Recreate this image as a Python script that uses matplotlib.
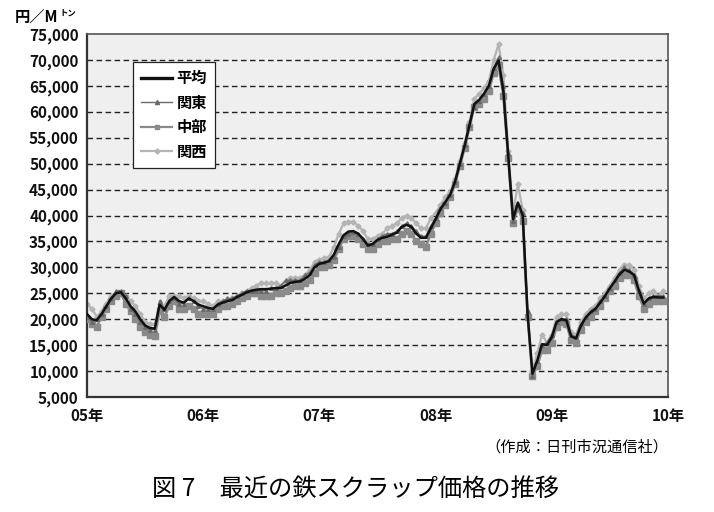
import matplotlib
matplotlib.use("Agg")
import matplotlib.pyplot as plt
from matplotlib.lines import Line2D

plt.rcParams["font.family"] = ["Noto Sans CJK JP", "DejaVu Sans"]

# semi-monthly readings, Jan 2005 .. Dec 2009 (yen per metric ton)
start_year = 2005
steps_per_year = 24

avg = [21000, 20000, 19800, 21000, 22500, 24000, 25000, 25200, 24000, 22500,
       21500, 20000, 18800, 18300, 18200, 22800, 21800, 23500, 24300, 23500,
       23200, 24000, 23500, 22800, 22500, 22200, 22000, 22800, 23200, 23500,
       23700, 24300, 24700, 25200, 25500, 25700, 25800, 25800, 25900, 26000,
       26000, 26500, 27000, 27200, 27300, 27800, 28500, 30000, 30700, 30900,
       31200, 32500, 34500, 36200, 36900, 37000, 36500, 35500, 34200, 34500,
       35300, 35700, 35900, 36300, 36700, 37800, 38200, 37800, 36500, 35700,
       35700, 37500, 39300, 41200, 42600, 44000, 46500, 50000, 53500, 57500,
       61500, 62300, 63500, 65000, 68300, 69900, 64000, 51500, 39300, 42500,
       40000, 21000, 9500, 12000, 15200, 15000, 16500, 19500, 20000, 19800,
       16700, 16300, 18700, 20300, 21300, 22000, 23200, 24500, 26000, 27300,
       28700, 29500, 29200, 28500, 25500, 23000, 24000, 24300, 24200, 24200]

kanto = [20500, 19500, 20000, 21000, 22500, 24000, 25500, 25500, 24500, 22000,
         21000, 19500, 18500, 18000, 18000, 23500, 22000, 23500, 24000, 23000,
         23000, 24000, 23500, 22500, 22000, 22000, 22000, 23000, 23500, 24000,
         24000, 24500, 25000, 25500, 25500, 25500, 25500, 25500, 26000, 26000,
         26500, 27500, 27500, 27500, 27500, 28500, 29000, 30500, 31000, 31000,
         31500, 32000, 34000, 36000, 36500, 36800, 36500, 35500, 34500, 34500,
         35500, 36000, 36500, 36500, 37000, 38000, 38500, 38000, 37000, 36000,
         36000, 38000, 39500, 41500, 42500, 44000, 46500, 50000, 53500, 57500,
         61000, 62000, 63500, 65000, 68500, 70500, 65000, 52000, 39000, 42000,
         40500, 21500, 9000, 12000, 15000, 15500, 17000, 19500, 20000, 20000,
         17000, 16500, 19000, 20500, 21500, 22000, 23500, 24500, 26000, 27500,
         29000, 30000, 29500, 28500, 25500, 23000, 24000, 24500, 24500, 24500]

chubu = [20000, 19000, 18500, 20500, 22000, 23500, 24500, 25000, 23000, 21500,
         20000, 18500, 17500, 17000, 16800, 21500, 20500, 22500, 23500, 22000,
         22000, 22500, 22000, 21000, 21000, 21000, 21000, 22000, 22500, 22500,
         23000, 23500, 24000, 24500, 25000, 25000, 24500, 24500, 24500, 25000,
         25000, 25500, 26000, 26500, 26500, 27000, 27500, 29000, 30000, 30000,
         30500, 31500, 33500, 35500, 36000, 36000, 35500, 34500, 33500, 33500,
         34500, 35000, 35000, 35500, 35500, 36500, 37000, 36500, 35000, 34500,
         34000, 36500, 38500, 40500, 42000, 43500, 46000, 49500, 53000, 57000,
         61000, 61500, 62500, 64000, 67500, 69000, 63000, 51000, 38500, 41500,
         39000, 20500, 9000, 11000, 14000, 14000, 15500, 18500, 19500, 19000,
         16000, 15500, 18000, 19500, 20500, 21500, 22500, 24000, 25500, 26500,
         28000, 28500, 28500, 27500, 24500, 22000, 23000, 23500, 23500, 23500]

kansai = [23000, 22000, 20500, 21500, 23000, 24500, 25000, 25000, 24500, 23500,
          22500, 21000, 19500, 19000, 19000, 23000, 22500, 24500, 24500, 24500,
          24000, 24500, 24000, 23500, 23500, 23000, 22500, 23500, 23500, 23800,
          24000, 24500, 25000, 25500, 26000, 26500, 27000, 27000, 27000, 27000,
          26500, 27000, 28000, 28000, 28000, 28500, 29500, 31000, 31500, 31800,
          32000, 34000, 36500, 38500, 38800, 38800, 38000, 37000, 35500, 35500,
          36000, 36500, 37500, 38000, 38500, 39500, 40000, 39500, 38500, 37500,
          37500, 39500, 40500, 42000, 43500, 44500, 47000, 50500, 54000, 58000,
          62500, 63500, 64500, 66000, 70000, 73000, 67000, 52500, 40500, 46000,
          41000, 21000, 10000, 13500, 17000, 15500, 17000, 20500, 21000, 21000,
          17500, 17000, 19500, 21000, 22000, 22500, 24000, 25000, 26500, 28000,
          29500, 30500, 30500, 29500, 26500, 24000, 25000, 25500, 24500, 25500]

series_names = ["平均", "関東", "中部", "関西"]
year_ticks = [2005, 2006, 2007, 2008, 2009, 2010]
year_labels = ["05年", "06年", "07年", "08年", "09年", "10年"]
y_ticks = list(range(5000, 75001, 5000))

t = [start_year + i / steps_per_year for i in range(len(avg))]

fig = plt.figure(figsize=(7.14, 5.12), dpi=100)
ax = fig.add_axes([87 / 714, 1 - 397 / 512, 581 / 714, 363 / 512])
ax.set_facecolor("#efefef")

ax.plot(t, kansai, color="#b4b4b4", lw=1.6, marker="D", ms=2.6, zorder=2)
ax.plot(t, chubu, color="#8a8a8a", lw=1.8, marker="s", ms=3.8, zorder=3)
ax.plot(t, kanto, color="#6a6a6a", lw=1.0, marker="^", ms=2.6, zorder=4)
ax.plot(t, avg, color="#111111", lw=1.8, zorder=5)

ax.set_xlim(2005, 2010)
ax.set_ylim(5000, 75000)
ax.set_xticks(year_ticks)
ax.set_xticklabels(year_labels)
ax.set_yticks(y_ticks)
ax.set_yticklabels([f"{v:,}" for v in y_ticks])
ax.tick_params(length=0, labelsize=11, pad=6)
ax.tick_params(axis="x", pad=8)
for lab in ax.get_xticklabels() + ax.get_yticklabels():
    lab.set_fontweight("bold")
    lab.set_color("#111111")

for v in y_ticks[1:-1]:
    ax.axhline(v, color="#222222", lw=1.0, ls=(0, (4, 2.5)), zorder=1)

for side in ["left", "bottom"]:
    ax.spines[side].set_color("#333333")
    ax.spines[side].set_linewidth(1.6)
for side in ["top", "right"]:
    ax.spines[side].set_color("#555555")
    ax.spines[side].set_linewidth(1.2)

handles = [
    Line2D([], [], color="#111111", lw=2.4),
    Line2D([], [], color="#6a6a6a", lw=1.0, marker="^", ms=3),
    Line2D([], [], color="#8a8a8a", lw=1.6, marker="s", ms=3),
    Line2D([], [], color="#b4b4b4", lw=1.6, marker="D", ms=2.6),
]
leg = ax.legend(handles, series_names, loc="upper left",
                bbox_to_anchor=(46 / 581, 1 - 28 / 363), borderaxespad=0,
                fancybox=False, framealpha=1, edgecolor="#222222",
                handlelength=2.0, handletextpad=0.3, labelspacing=0.55,
                borderpad=0.55, prop={"size": 11, "weight": "bold"})
leg.get_frame().set_linewidth(0.9)

fig.text(15 / 714, 1 - 17 / 512, "円／M", fontsize=11, fontweight="bold",
         va="center", ha="left")
fig.text(59 / 714, 1 - 13 / 512, "トン", fontsize=6, fontweight="bold",
         va="center", ha="left")

fig.text(668 / 714, 1 - 447 / 512, "（作成：日刊市況通信社）", fontsize=11,
         ha="right", va="center")
fig.text(355 / 714, 1 - 490 / 512, "図 7　最近の鉄スクラップ価格の推移",
         fontsize=17.5, ha="center", va="center")

fig.savefig("out.png", dpi=100)
